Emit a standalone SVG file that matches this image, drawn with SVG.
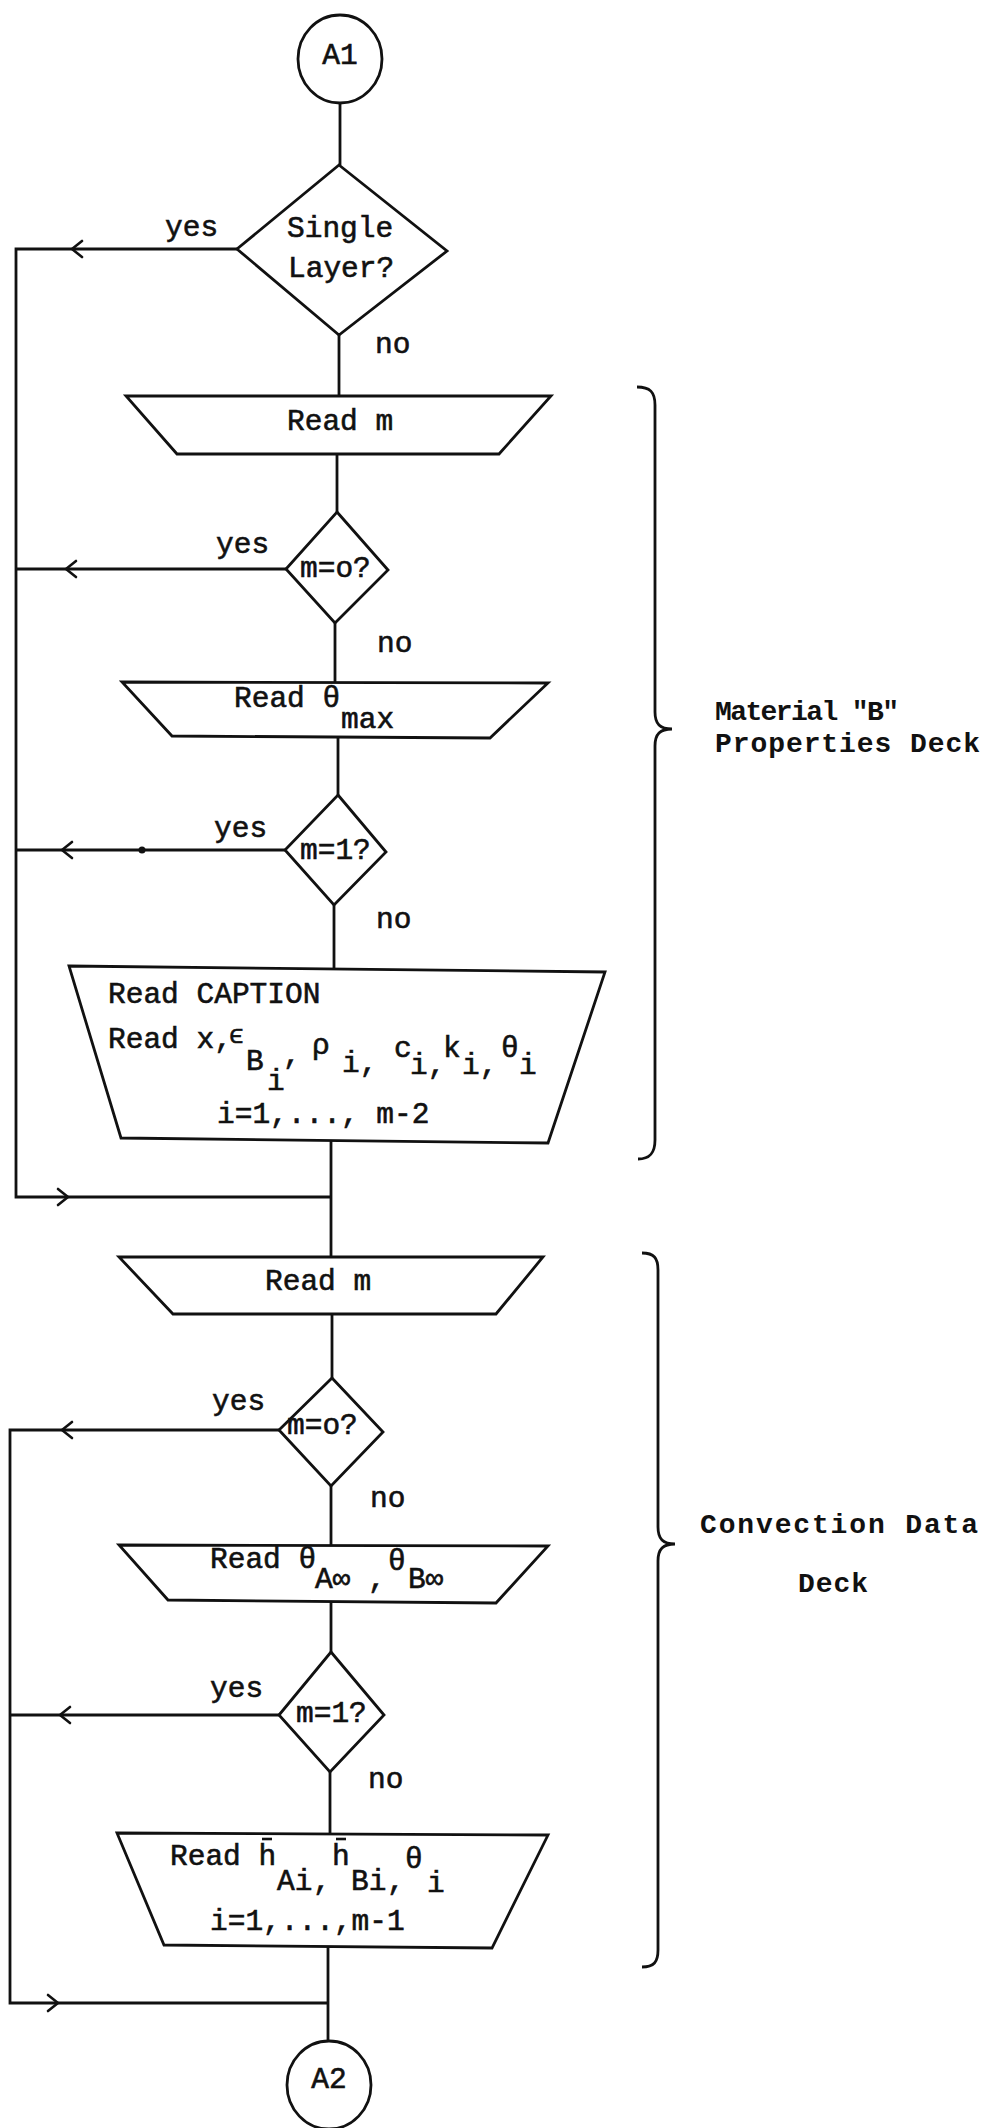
<svg xmlns="http://www.w3.org/2000/svg" width="992" height="2128" viewBox="0 0 992 2128">
<style>
.shape{fill:none;stroke:#111;stroke-width:2.8;stroke-linejoin:miter}
.conn{fill:none;stroke:#111;stroke-width:2.8}
.arr{fill:none;stroke:#111;stroke-width:2.6;stroke-linecap:round;stroke-linejoin:round}
.t{font-family:"Liberation Mono","DejaVu Sans Mono",monospace;font-size:29.5px;fill:#111;stroke:#111;stroke-width:0.6px}
.lbl{font-family:"Liberation Mono","DejaVu Sans Mono",monospace;font-size:28px;font-weight:bold;fill:#111}
.bar{stroke:#111;stroke-width:2.6}
</style>
<rect width="992" height="2128" fill="#ffffff"/>
<g id="connectors">
<path class="conn" d="M340,103 V165"/>
<path class="conn" d="M339,335 V396"/>
<path class="conn" d="M337,454 V512"/>
<path class="conn" d="M335,623 V682"/>
<path class="conn" d="M338,737 V795"/>
<path class="conn" d="M334,905 V968"/>
<path class="conn" d="M331,1140 V1257"/>
<path class="conn" d="M332,1314 V1378"/>
<path class="conn" d="M331,1486 V1545"/>
<path class="conn" d="M331,1602 V1652"/>
<path class="conn" d="M330,1772 V1834"/>
<path class="conn" d="M328,1947 V2041"/>
<path class="conn" d="M237,249 H16 V1197 H331"/>
<path class="conn" d="M286,569 H16"/>
<path class="conn" d="M285,850 H16"/>
<path class="conn" d="M279,1430 H10 V2003 H328"/>
<path class="conn" d="M279,1715 H10"/>
<path class="arr" d="M82,241 L72,249 L82,257"/>
<path class="arr" d="M76,561 L66,569 L76,577"/>
<path class="arr" d="M72,842 L62,850 L72,858"/>
<path class="arr" d="M58,1189 L68,1197 L58,1205"/>
<path class="arr" d="M72,1422 L62,1430 L72,1438"/>
<path class="arr" d="M70,1707 L60,1715 L70,1723"/>
<path class="arr" d="M48,1995 L58,2003 L48,2011"/>
<circle cx="142" cy="850" r="3.5" fill="#111"/>
<text class="t" x="165" y="236">yes</text>
<text class="t" x="375" y="353">no</text>
<text class="t" x="216" y="553">yes</text>
<text class="t" x="377" y="652">no</text>
<text class="t" x="214" y="837">yes</text>
<text class="t" x="376" y="928">no</text>
<text class="t" x="212" y="1410">yes</text>
<text class="t" x="370" y="1507">no</text>
<text class="t" x="210" y="1697">yes</text>
<text class="t" x="368" y="1788">no</text>
</g>
<g id="A1">
<ellipse class="shape" cx="340" cy="59" rx="42" ry="44"/>
<text class="t" x="340" y="64" text-anchor="middle">A1</text>
</g>
<g id="single-layer">
<polygon class="shape" points="339,165 447,251 339,335 237,249"/>
<text class="t" x="287" y="237">Single</text>
<text class="t" x="288" y="277">Layer?</text>
</g>
<g id="read-m-1">
<polygon class="shape" points="126,396 551,396 499,454 177,454"/>
<text class="t" x="287" y="430">Read m</text>
</g>
<g id="m-eq-0-1">
<polygon class="shape" points="337,512 388,570 335,623 286,569"/>
<text class="t" x="300" y="577">m=o?</text>
</g>
<g id="read-theta-max">
<polygon class="shape" points="122,682 548,683 490,738 172,736"/>
<text class="t" x="234" y="707">Read θ</text>
<text class="t" x="341" y="728">max</text>
</g>
<g id="m-eq-1-1">
<polygon class="shape" points="338,795 386,852 334,905 285,850"/>
<text class="t" x="300" y="859">m=1?</text>
</g>
<g id="read-caption">
<polygon class="shape" points="69,966 605,972 548,1143 121,1138"/>
<text class="t" x="108" y="1003">Read CAPTION</text>
<text class="t" x="108" y="1048">Read x,</text>
<text class="t" x="229" y="1043" style="font-size:25px">ϵ</text>
<text class="t" x="246" y="1070">B</text>
<text class="t" x="267" y="1090">i</text>
<text class="t" x="283" y="1064">,</text>
<text class="t" x="312" y="1054">ρ</text>
<text class="t" x="342" y="1072">i,</text>
<text class="t" x="394" y="1057">c</text>
<text class="t" x="410" y="1074">i,</text>
<text class="t" x="443" y="1057">k</text>
<text class="t" x="462" y="1074">i,</text>
<text class="t" x="501" y="1057">θ</text>
<text class="t" x="519" y="1074">i</text>
<text class="t" x="217" y="1123">i=1,..., m-2</text>
</g>
<g id="read-m-2">
<polygon class="shape" points="119,1257 543,1257 496,1314 173,1314"/>
<text class="t" x="265" y="1290">Read m</text>
</g>
<g id="m-eq-0-2">
<polygon class="shape" points="332,1378 383,1432 331,1486 279,1430"/>
<text class="t" x="287" y="1434">m=o?</text>
</g>
<g id="read-theta-inf">
<polygon class="shape" points="119,1545 548,1546 496,1603 168,1600"/>
<text class="t" x="210" y="1568">Read θ</text>
<text class="t" x="315" y="1588">A∞</text>
<text class="t" x="368" y="1588">,</text>
<text class="t" x="388" y="1570">θ</text>
<text class="t" x="408" y="1588">B∞</text>
</g>
<g id="m-eq-1-2">
<polygon class="shape" points="331,1652 384,1715 330,1772 279,1715"/>
<text class="t" x="296" y="1722">m=1?</text>
</g>
<g id="read-h">
<polygon class="shape" points="117,1833 548,1835 492,1948 164,1945"/>
<text class="t" x="170" y="1865">Read h</text>
<line class="bar" x1="262" y1="1839" x2="272" y2="1839"/>
<text class="t" x="277" y="1890">Ai</text>
<text class="t" x="313" y="1890">,</text>
<text class="t" x="332" y="1865">h</text>
<line class="bar" x1="336" y1="1839" x2="346" y2="1839"/>
<text class="t" x="351" y="1890">Bi</text>
<text class="t" x="387" y="1890">,</text>
<text class="t" x="405" y="1868">θ</text>
<text class="t" x="427" y="1892">i</text>
<text class="t" x="210" y="1930">i=1,...,m-1</text>
</g>
<g id="A2">
<ellipse class="shape" cx="329" cy="2085" rx="42" ry="44"/>
<text class="t" x="329" y="2088" text-anchor="middle">A2</text>
</g>
<g id="brace-material">
<path class="conn" d="M637,387 C650,387 655,392 655,405 L655,712 C655,724 660,729 672,729 C660,729 655,734 655,746 L655,1140 C655,1153 650,1159 638,1159"/>
<text class="lbl" x="715" y="720" textLength="184" lengthAdjust="spacing">Material "B"</text>
<text class="lbl" x="715" y="752" textLength="265" lengthAdjust="spacing">Properties Deck</text>
</g>
<g id="brace-convection">
<path class="conn" d="M642,1253 C654,1253 658,1258 658,1270 L658,1527 C658,1539 663,1544 675,1544 C663,1544 658,1549 658,1561 L658,1950 C658,1962 654,1967 642,1967"/>
<text class="lbl" x="700" y="1533" textLength="278" lengthAdjust="spacing">Convection Data</text>
<text class="lbl" x="798" y="1592" textLength="70" lengthAdjust="spacing">Deck</text>
</g>
</svg>
